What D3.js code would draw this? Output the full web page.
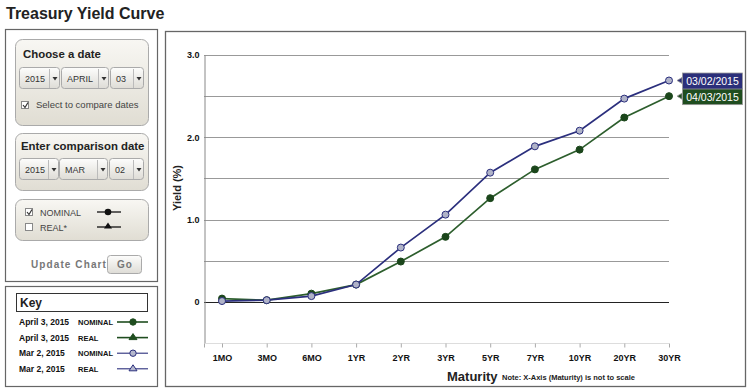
<!doctype html>
<html>
<head>
<style>
  body { margin: 0; background: #fff; }
  svg text { font-family: "Liberation Sans", Arial, sans-serif; }
</style>
<script src="https://d3js.org/d3.v7.min.js"></script>
</head>
<body>
<svg width="752" height="391"></svg>
<script>
var maturities = ["1MO", "3MO", "6MO", "1YR", "2YR", "3YR", "5YR", "7YR", "10YR", "20YR", "30YR"];
var yieldApr3 = [0.04, 0.02, 0.10, 0.21, 0.49, 0.79, 1.26, 1.61, 1.85, 2.24, 2.50];
var yieldMar2 = [0.01, 0.02, 0.07, 0.21, 0.66, 1.06, 1.57, 1.89, 2.08, 2.47, 2.69];
var yTicks = [0, 1.0, 2.0, 3.0];
var gridVals = [0.5, 1.0, 1.5, 2.0, 2.5, 3.0];
var seriesNames = ["04/03/2015", "03/02/2015"];
var keyRows = [
  ["April 3, 2015", "NOMINAL"],
  ["April 3, 2015", "REAL"],
  ["Mar 2, 2015", "NOMINAL"],
  ["Mar 2, 2015", "REAL"]
];

var svg = d3.select("svg");
var defs = svg.append("defs");

var beige = defs.append("linearGradient").attr("id", "beige").attr("x1", 0).attr("x2", 0).attr("y1", 0).attr("y2", 1);
beige.append("stop").attr("offset", "0%").attr("stop-color", "#f8f7f3");
beige.append("stop").attr("offset", "100%").attr("stop-color", "#e0ddd3");
var btn = defs.append("linearGradient").attr("id", "btn").attr("x1", 0).attr("x2", 0).attr("y1", 0).attr("y2", 1);
btn.append("stop").attr("offset", "0%").attr("stop-color", "#fdfdfc");
btn.append("stop").attr("offset", "100%").attr("stop-color", "#dedcd6");

// title
svg.append("text").attr("x", 6).attr("y", 19)
  .style("font-size", "16px").style("font-weight", "bold").attr("fill", "#222")
  .text("Treasury Yield Curve");

// ---------- left controls ----------
svg.append("rect").attr("x", 5.5).attr("y", 29.5).attr("width", 152).attr("height", 252)
  .attr("fill", "none").attr("stroke", "#666").attr("stroke-width", 1.2);

function panel(x, y, w, h) {
  svg.append("rect").attr("x", x + 0.5).attr("y", y + 0.5).attr("width", w).attr("height", h)
    .attr("rx", 7).attr("fill", "url(#beige)").attr("stroke", "#aaa");
}
function dropdown(x, y, w, label) {
  var g = svg.append("g").attr("transform", "translate(" + x + "," + y + ")");
  g.append("rect").attr("x", 0.5).attr("y", 0.5).attr("width", w).attr("height", 21).attr("rx", 3)
    .attr("fill", "url(#btn)").attr("stroke", "#aaa");
  g.append("line").attr("x1", w - 9.5).attr("x2", w - 9.5).attr("y1", 2).attr("y2", 21).attr("stroke", "#bbb");
  g.append("text").attr("x", 6).attr("y", 14.5).style("font-size", "9px").attr("fill", "#333").text(label);
  g.append("path").attr("d", "M" + (w - 6.5) + ",10 l5,0 l-2.5,3.5z").attr("fill", "#333");
}
function checkbox(x, y, checked) {
  svg.append("rect").attr("x", x + 0.5).attr("y", y + 0.5).attr("width", 7).attr("height", 7)
    .attr("fill", "#fff").attr("stroke", "#888");
  if (checked) svg.append("path").attr("d", "M" + (x + 2) + "," + (y + 4) + " l2,2.5 l3,-5")
    .attr("fill", "none").attr("stroke", "#333").attr("stroke-width", 1.2);
}

panel(15, 39, 133, 86);
svg.append("text").attr("x", 23).attr("y", 58).style("font-size", "11.4px").style("font-weight", "bold")
  .attr("fill", "#222").text("Choose a date");
dropdown(19, 67, 40, "2015");
dropdown(61, 67, 47, "APRIL");
dropdown(110, 67, 33, "03");
checkbox(21, 101, true);
svg.append("text").attr("x", 36).attr("y", 108).style("font-size", "9.5px").attr("fill", "#444")
  .text("Select to compare dates");

panel(15, 133, 133, 57);
svg.append("text").attr("x", 21).attr("y", 150).style("font-size", "11.4px").style("font-weight", "bold")
  .attr("fill", "#222").text("Enter comparison date");
dropdown(19, 158, 39, "2015");
dropdown(59, 158, 48, "MAR");
dropdown(109, 158, 34, "02");

panel(15, 199, 133, 41);
checkbox(25, 208, true);
svg.append("text").attr("x", 40).attr("y", 216).style("font-size", "9px").attr("fill", "#444").text("NOMINAL");
checkbox(25, 223, false);
svg.append("text").attr("x", 40).attr("y", 231).style("font-size", "9px").attr("fill", "#444").text("REAL*");
svg.append("line").attr("x1", 97).attr("x2", 121).attr("y1", 212).attr("y2", 212).attr("stroke", "#111").attr("stroke-width", 1.3);
svg.append("circle").attr("cx", 108).attr("cy", 212).attr("r", 3.3).attr("fill", "#111");
svg.append("line").attr("x1", 97).attr("x2", 121).attr("y1", 227).attr("y2", 227).attr("stroke", "#111").attr("stroke-width", 1.3);
svg.append("path").attr("d", "M108,222.5 l4,6 l-8,0z").attr("fill", "#111");

svg.append("text").attr("x", 31).attr("y", 268).style("font-size", "10px").style("font-weight", "bold")
  .style("letter-spacing", "1.1px").attr("fill", "#777").text("Update Chart");
svg.append("rect").attr("x", 107.5).attr("y", 255.5).attr("width", 34).attr("height", 18).attr("rx", 3)
  .attr("fill", "url(#btn)").attr("stroke", "#aaa");
svg.append("text").attr("x", 125).attr("y", 268).attr("text-anchor", "middle").style("font-size", "10px")
  .style("font-weight", "bold").style("letter-spacing", "1.1px").attr("fill", "#777").text("Go");

// key
svg.append("rect").attr("x", 5.5).attr("y", 286.5).attr("width", 152).attr("height", 100)
  .attr("fill", "none").attr("stroke", "#666").attr("stroke-width", 1.2);
svg.append("rect").attr("x", 16.5).attr("y", 293.5).attr("width", 131).attr("height", 18)
  .attr("fill", "#fff").attr("stroke", "#333");
svg.append("text").attr("x", 20).attr("y", 307).style("font-size", "12px").style("font-weight", "bold")
  .attr("fill", "#222").text("Key");

var keyColors = ["#1f4d1f", "#1f4d1f", "#2b2f7d", "#2b2f7d"];
keyRows.forEach(function (r, i) {
  var y = 322 + i * 15.6;
  svg.append("text").attr("x", 19).attr("y", y + 3).style("font-size", "8.5px").style("font-weight", "bold")
    .attr("fill", "#111").text(r[0]);
  svg.append("text").attr("x", 78).attr("y", y + 3).style("font-size", "7.5px").style("font-weight", "bold")
    .attr("fill", "#111").text(r[1]);
  svg.append("line").attr("x1", 117).attr("x2", 148).attr("y1", y).attr("y2", y)
    .attr("stroke", keyColors[i]).attr("stroke-width", i < 2 ? 1.6 : 1.1);
  var fill = i < 2 ? "#1f4d1f" : "#b4b7cc";
  if (r[1] === "NOMINAL") {
    svg.append("circle").attr("cx", 133).attr("cy", y).attr("r", 3.2).attr("fill", fill)
      .attr("stroke", keyColors[i]).attr("stroke-width", 1);
  } else {
    svg.append("path").attr("d", "M133," + (y - 4) + " l4,6 l-8,0z").attr("fill", fill)
      .attr("stroke", keyColors[i]).attr("stroke-width", 1);
  }
});

// ---------- chart ----------
svg.append("rect").attr("x", 165.5).attr("y", 31.5).attr("width", 580).attr("height", 355)
  .attr("fill", "#fff").attr("stroke", "#666").attr("stroke-width", 1.3);

var x = d3.scalePoint().domain(maturities).range([222, 669]);
var y = d3.scaleLinear().domain([-0.5, 3.0]).range([343, 55]);
var plotLeft = 204, plotRight = 669;

svg.append("g").selectAll("line").data(gridVals).join("line")
  .attr("x1", plotLeft).attr("x2", plotRight)
  .attr("y1", function (d) { return Math.round(y(d)) + 0.5; })
  .attr("y2", function (d) { return Math.round(y(d)) + 0.5; })
  .attr("stroke", "#999").attr("stroke-width", 1);
svg.append("line").attr("x1", plotLeft).attr("x2", plotRight)
  .attr("y1", Math.round(y(0)) + 0.5).attr("y2", Math.round(y(0)) + 0.5)
  .attr("stroke", "#222").attr("stroke-width", 1.2);

// y axis
var yAxis = svg.append("g").attr("transform", "translate(" + (plotLeft + 0.5) + ",0)")
  .call(d3.axisLeft(y).tickValues(yTicks).tickSize(0).tickPadding(5)
    .tickFormat(function (d) { return d === 0 ? "0" : d3.format(".1f")(d); }));
yAxis.select(".domain").attr("stroke", "#888");
yAxis.selectAll("text").style("font-size", "9px").style("font-weight", "bold").attr("fill", "#111")
  .style("font-family", "'Liberation Sans', Arial, sans-serif");

// x axis
var xAxis = svg.append("g").attr("transform", "translate(0," + 343.5 + ")")
  .call(d3.axisBottom(x).tickSize(4).tickPadding(7));
xAxis.select(".domain").attr("d", "M" + plotLeft + ",0H" + plotRight).attr("stroke", "#ddd");
xAxis.selectAll(".tick line").attr("stroke", "#aaa");
xAxis.append("line").attr("x1", plotLeft + 0.5).attr("x2", plotLeft + 0.5).attr("y1", 0).attr("y2", 4).attr("stroke", "#aaa");
xAxis.selectAll("text").style("font-size", "9px").style("font-weight", "bold").attr("fill", "#111")
  .style("font-family", "'Liberation Sans', Arial, sans-serif");

// axis titles
svg.append("text").attr("transform", "translate(181,188) rotate(-90)").attr("text-anchor", "middle")
  .style("font-size", "11px").style("font-weight", "bold").attr("fill", "#222").text("Yield (%)");
svg.append("text").attr("x", 447).attr("y", 381).style("font-size", "13px").style("font-weight", "bold")
  .attr("fill", "#222").text("Maturity");
svg.append("text").attr("x", 502).attr("y", 380).style("font-size", "7.5px").style("font-weight", "bold")
  .attr("fill", "#222").text("Note: X-Axis (Maturity) is not to scale");

// series
var line = d3.line().x(function (d, i) { return x(maturities[i]); }).y(function (d) { return y(d); });
var series = [
  { name: seriesNames[0], values: yieldApr3, stroke: "#2d5e2d", fill: "#1b461b", dot: "#1b461b", box: "#1f4d1f" },
  { name: seriesNames[1], values: yieldMar2, stroke: "#2b2f7d", fill: "#b0b3c8", dot: "#2b2f7d", box: "#2b2f7a" }
];
series.forEach(function (s) {
  svg.append("path").datum(s.values).attr("d", line).attr("fill", "none")
    .attr("stroke", s.stroke).attr("stroke-width", 1.7);
  svg.append("g").selectAll("circle").data(s.values).join("circle")
    .attr("cx", function (d, i) { return x(maturities[i]); })
    .attr("cy", function (d) { return y(d); })
    .attr("r", 3.5).attr("fill", s.fill).attr("stroke", s.dot).attr("stroke-width", 1);
});

// end labels
series.forEach(function (s) {
  var last = s.values[s.values.length - 1];
  var cy = y(last);
  var g = svg.append("g").attr("transform", "translate(682," + (cy - 8) + ")");
  g.append("path").attr("d", "M0,5 L-5,8 L0,11z").attr("fill", s.box).attr("stroke", "#999").attr("stroke-width", 0.8);
  g.append("rect").attr("x", 0.5).attr("y", 0.5).attr("width", 60).attr("height", 16)
    .attr("fill", s.box).attr("stroke", "#999").attr("stroke-width", 0.8);
  g.append("text").attr("x", 30.5).attr("y", 12.5).attr("text-anchor", "middle")
    .style("font-size", "10.5px").attr("fill", "#fff").text(s.name);
});
</script>
</body>
</html>
